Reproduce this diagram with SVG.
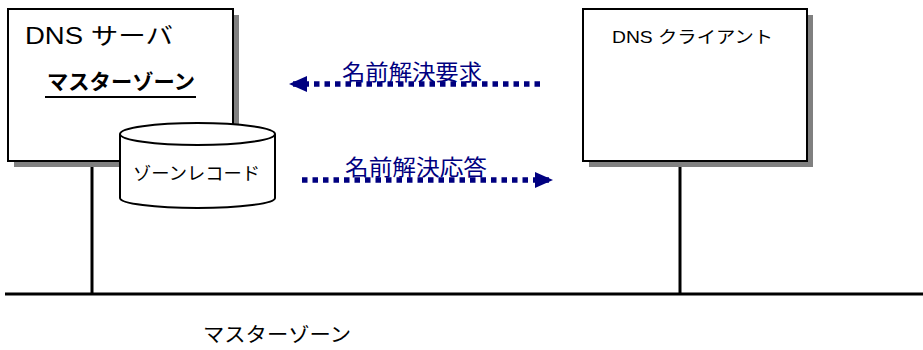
<svg xmlns="http://www.w3.org/2000/svg" width="923" height="350" viewBox="0 0 923 350">
<style>
.box{fill:#fff;stroke:#000;stroke-width:2}
.shadow{fill:#808080}
.line{stroke:#000;stroke-width:3;fill:none}
.t{font-family:"Liberation Sans","Noto Sans CJK JP",sans-serif;fill:#000}
.blue{font-family:"Liberation Sans","Noto Sans CJK JP",sans-serif;fill:#000080}
.dot{stroke:#000080;stroke-width:5.5;stroke-dasharray:5.5 5;fill:none}
</style>
<defs>
<marker id="ah" markerWidth="18" markerHeight="16" refX="18" refY="8" orient="auto" markerUnits="userSpaceOnUse">
<path d="M0,0 L18,8 L0,16 Z" fill="#000080"/>
</marker>
</defs>
<g id="connectors">
<line class="line" x1="5" y1="294" x2="923" y2="294"/>
<line class="line" x1="92" y1="161" x2="92" y2="294"/>
<line class="line" x1="680" y1="161" x2="680" y2="294"/>
<line class="dot" x1="540" y1="84" x2="289" y2="84" marker-end="url(#ah)"/>
<line class="dot" x1="302" y1="180" x2="553" y2="180" marker-end="url(#ah)"/>
</g>
<g id="server">
<rect class="shadow" x="14" y="15" width="225" height="152"/>
<rect class="box" x="8" y="9" width="225" height="152"/>
<text class="t" x="25" y="44" font-size="23" textLength="148" lengthAdjust="spacingAndGlyphs">DNS サーバ</text>
<text class="t" x="47" y="89" font-size="21" font-weight="bold" textLength="148" lengthAdjust="spacingAndGlyphs">マスターゾーン</text>
<line x1="45" y1="97" x2="196" y2="97" stroke="#000" stroke-width="2"/>
</g>
<g id="zone-record">
<path class="box" d="M120,134 L120,198 A77.5,10 0 0 0 275,198 L275,134"/>
<ellipse class="box" cx="197.5" cy="134" rx="77.5" ry="11"/>
<text class="t" x="133" y="180" font-size="18" textLength="127" lengthAdjust="spacingAndGlyphs">ゾーンレコード</text>
</g>
<g id="client">
<rect class="shadow" x="589" y="15" width="224" height="152"/>
<rect class="box" x="583" y="9" width="224" height="152"/>
<text class="t" x="612" y="43" font-size="17" textLength="161" lengthAdjust="spacingAndGlyphs">DNS クライアント</text>
</g>
<g id="labels">
<text class="blue" x="342" y="80" font-size="22" textLength="140" lengthAdjust="spacingAndGlyphs">名前解決要求</text>
<text class="blue" x="345" y="175" font-size="22" textLength="142" lengthAdjust="spacingAndGlyphs">名前解決応答</text>
<text class="t" x="203" y="342" font-size="20" textLength="148" lengthAdjust="spacingAndGlyphs">マスターゾーン</text>
</g>
</svg>
